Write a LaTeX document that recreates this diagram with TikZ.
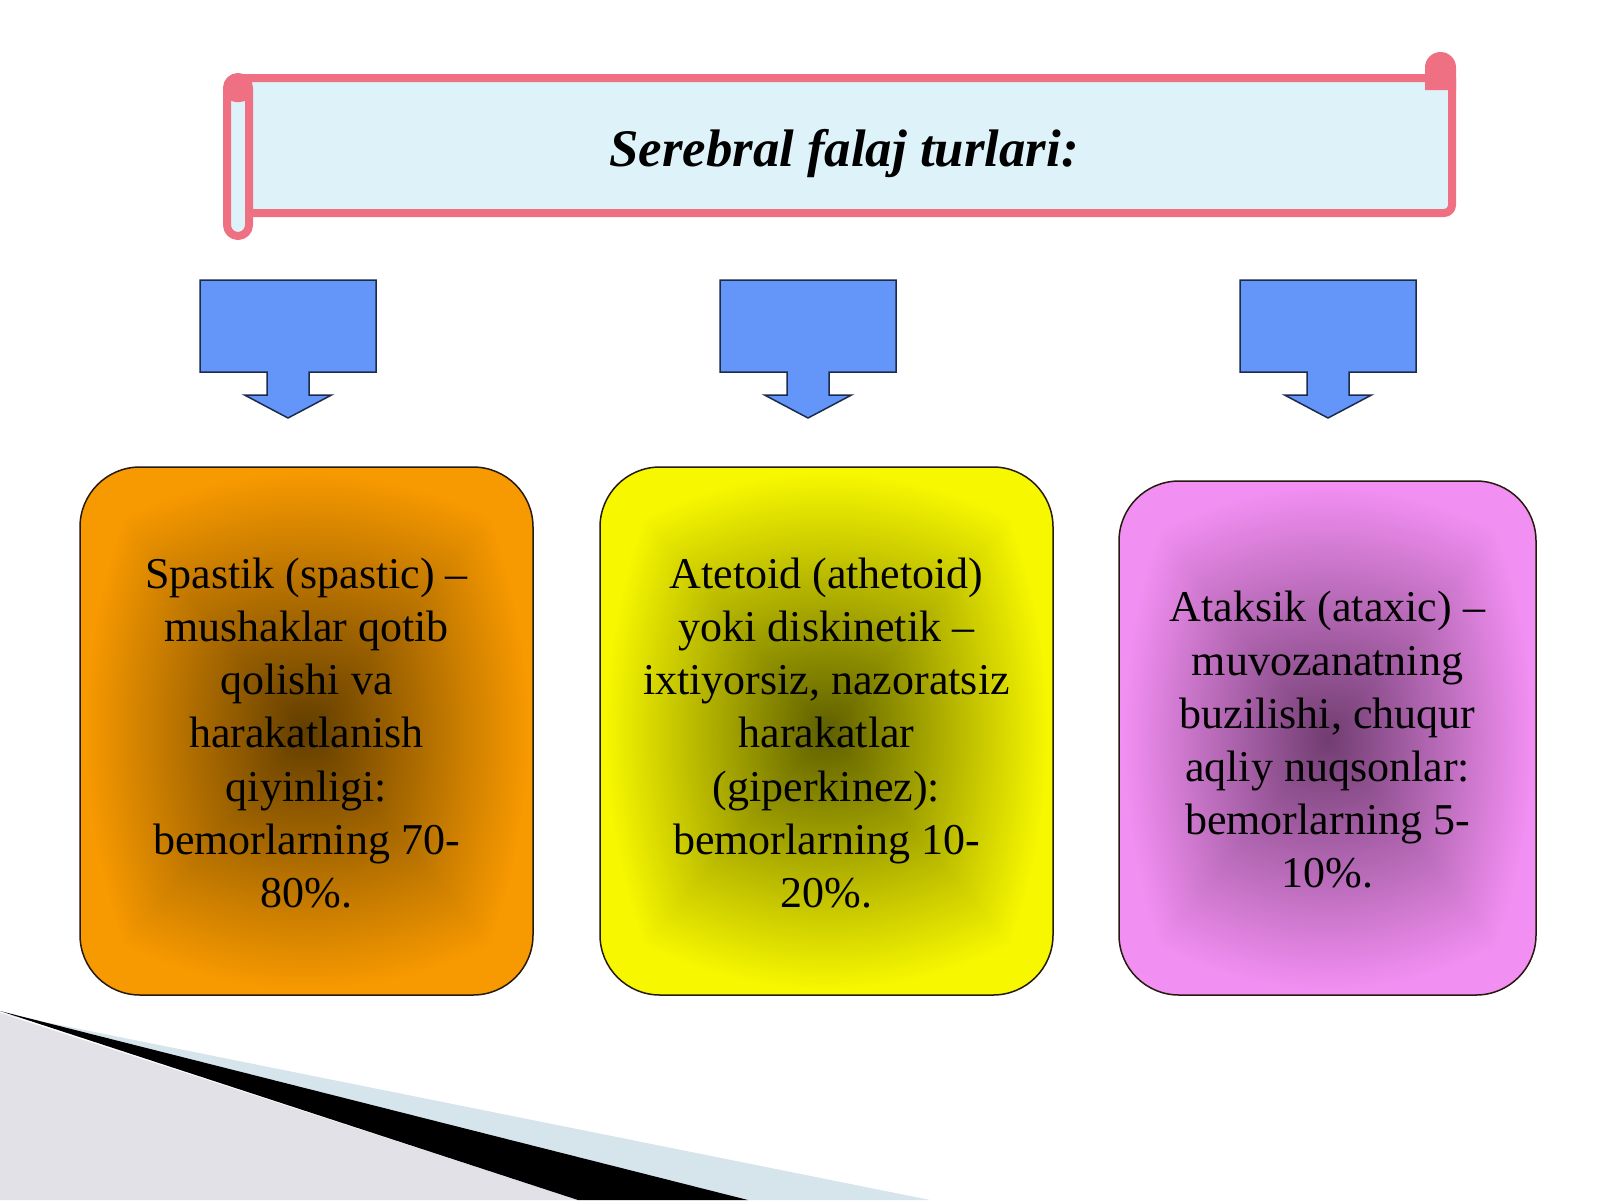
\documentclass[tikz,border=0pt]{standalone}
\usepackage{fontspec}
\setmainfont{Liberation Serif}
\definecolor{scrollpink}{RGB}{238,112,130}
\definecolor{scrollfill}{RGB}{222,243,249}
\definecolor{calloutfill}{RGB}{100,150,250}
\definecolor{calloutline}{RGB}{28,43,74}
\definecolor{bggray}{RGB}{226,225,231}
\definecolor{bgblue}{RGB}{214,228,236}
% norm: mean of max-norm and euclidean norm, scaled so the box edge is about 1
\def\glownorm{2 copy dup mul exch dup mul add sqrt 3 1 roll abs exch abs 2 copy lt {exch} if pop add 2 div 24.5 div dup 1 gt {pop 1} if}
\pgfdeclarefunctionalshading{orangeglow}{\pgfpoint{-50bp}{-50bp}}{\pgfpoint{50bp}{50bp}}{}{
 \glownorm\space dup dup 0.59 mul 0.38 add 3 1 roll 0.36 mul 0.24 add exch 0.0 mul 0.0 add }
\pgfdeclarefunctionalshading{yellowglow}{\pgfpoint{-50bp}{-50bp}}{\pgfpoint{50bp}{50bp}}{}{
 \glownorm\space dup dup 0.60 mul 0.37 add 3 1 roll 0.60 mul 0.37 add exch 0.0 mul 0.0 add }
\pgfdeclarefunctionalshading{pinkglow}{\pgfpoint{-50bp}{-50bp}}{\pgfpoint{50bp}{50bp}}{}{
 \glownorm\space dup dup 0.51 mul 0.44 add 3 1 roll 0.32 mul 0.24 add exch 0.51 mul 0.44 add }
\tikzset{
  scrollline/.style={draw=scrollpink, line width=4pt, line join=round},
  callout/.style={draw=calloutline, fill=calloutfill, line width=0.75pt},
  ctext/.style={font=\fontsize{22pt}{26.6pt}\selectfont, align=center, text=black},
  catbox/.style={draw=black!80!brown, line width=0.75pt, rounded corners=30pt,
    minimum height=264pt, inner sep=0pt, ctext},
}
\begin{document}
\begin{tikzpicture}[x=0.5pt,y=-0.5pt]
\useasboundingbox (0,0) rectangle (1600,1200);
\fill[white] (0,0) rectangle (1600,1200);
% bottom-left decoration
\fill[bggray] (0,1013) -- (578,1200) -- (0,1200) -- cycle;
\fill[bgblue] (0,1013) -- (930,1200) -- (748,1200) -- cycle;
\fill[black] (0,1011) -- (748,1200) -- (578,1200) -- cycle;
% scroll banner
\draw[scrollline, fill=scrollfill] (238,78) -- (1452,78) [rounded corners=4pt] -- (1452,213) [sharp corners] -- (238,213);
\fill[scrollpink] (1425,90) [rounded corners=7.75pt] -- (1425,52) -- (1456,52) [sharp corners] -- (1456,90) -- cycle;
\draw[scrollline, fill=scrollfill, rounded corners=5.5pt] (227,77) rectangle (249,236);
\fill[scrollpink, rounded corners=5.5pt] (225,75) rectangle (251,102);
\node[font=\fontsize{26.4pt}{30pt}\selectfont\bfseries\itshape] (title) at (844,154) {Serebral falaj turlari:};
% down arrow callouts
\foreach \cx in {288,808,1328}{
  \draw[callout] (\cx-88,280) -- (\cx+88,280) -- (\cx+88,372) -- (\cx+21,372)
    -- (\cx+21,395) -- (\cx+43.5,395) -- (\cx,418) -- (\cx-43.5,395)
    -- (\cx-21,395) -- (\cx-21,372) -- (\cx-88,372) -- cycle;
}
% category boxes
\node[catbox, shading=orangeglow, minimum width=226.5pt] (spastik) at (306.5,731) {};
\node[ctext] (spastiktext) at (306.5,733)
  {Spastik (spastic) –\\mushaklar qotib\\qolishi va\\harakatlanish\\qiyinligi:\\bemorlarning 70-\\80\%.};
\node[catbox, shading=yellowglow, minimum width=226.5pt] (atetoid) at (826.5,731) {};
\node[ctext] (atetoidtext) at (826.5,733)
  {Atetoid (athetoid)\\yoki diskinetik –\\ixtiyorsiz, nazoratsiz\\harakatlar\\(giperkinez):\\bemorlarning 10-\\20\%.};
\node[catbox, shading=pinkglow, minimum width=208.5pt, minimum height=257pt] (ataksik) at (1327.5,738) {};
\node[ctext] (ataksiktext) at (1327.5,740)
  {Ataksik (ataxic) –\\muvozanatning\\buzilishi, chuqur\\aqliy nuqsonlar:\\bemorlarning 5-\\10\%.};
\end{tikzpicture}
\end{document}
